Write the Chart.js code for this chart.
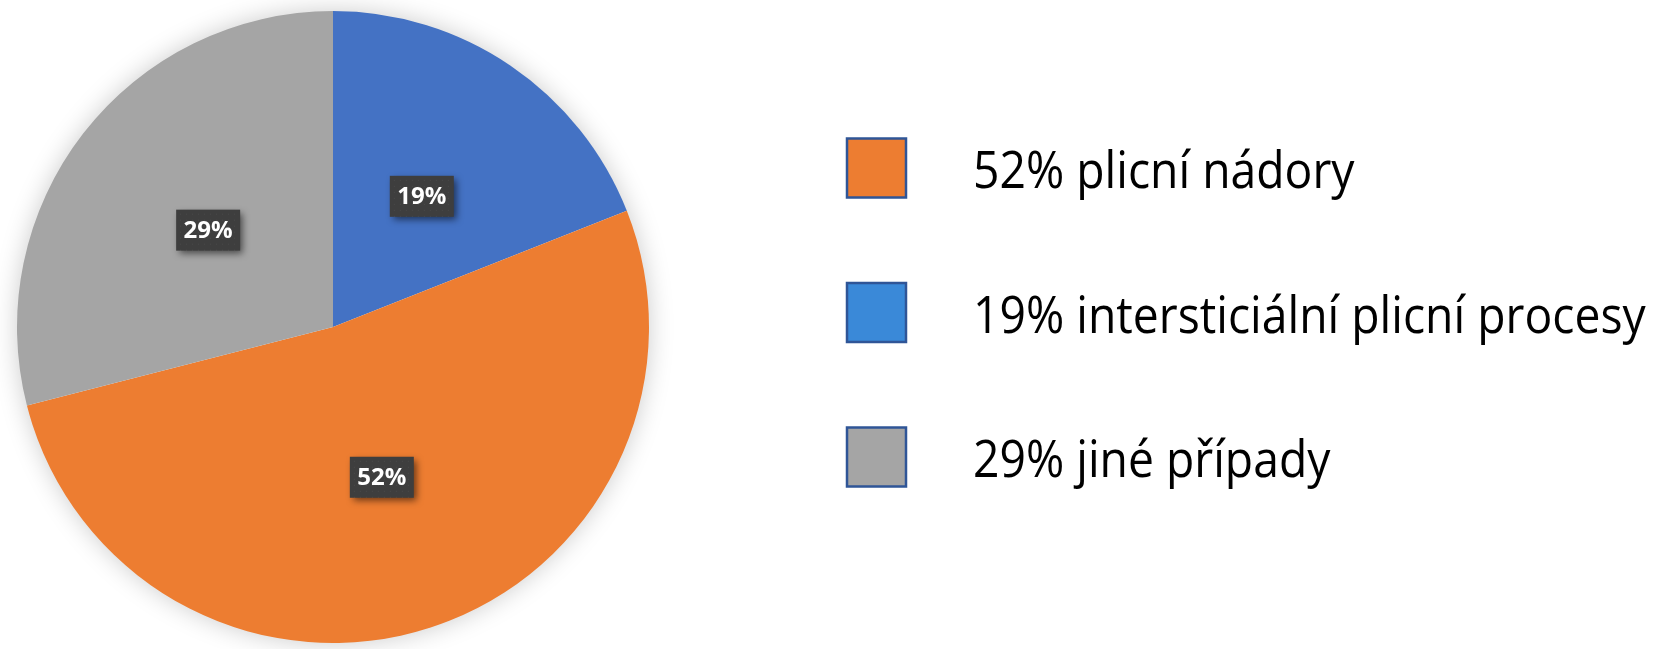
<!DOCTYPE html>
<html>
<head>
<meta charset="utf-8">
<script src="https://cdn.jsdelivr.net/npm/chart.js@4"></script>
<style>
  html, body { margin: 0; padding: 0; background: #fff; }
</style>
</head>
<body>
<canvas id="pieChart" width="1654" height="649"></canvas>
<script>
// categories in legend order
const categories = ['plicní nádory', 'intersticiální plicní procesy', 'jiné případy'];
const shares = [52, 19, 29];
const sliceColors = ['#ED7D31', '#4472C4', '#A5A5A5'];
const legendColors = ['#ED7D31', '#3A89D8', '#A5A5A5'];
// slices are drawn clockwise from 12 o'clock in this order
const sliceOrder = [1, 0, 2];

const pieShadow = {
    id: 'pieShadow',
    beforeDatasetsDraw(chart) {
        const arc = chart.getDatasetMeta(0).data[0];
        if (!arc) return;
        const ctx = chart.ctx;
        ctx.save();
        ctx.shadowColor = 'rgba(0, 0, 0, 0.22)';
        ctx.shadowBlur = 26;
        ctx.fillStyle = '#ffffff';
        ctx.beginPath();
        ctx.arc(arc.x, arc.y, arc.outerRadius - 1, 0, Math.PI * 2);
        ctx.fill();
        ctx.restore();
    }
};

const sliceLabels = {
    id: 'sliceLabels',
    afterDatasetsDraw(chart) {
        const ctx = chart.ctx;
        const values = chart.data.datasets[0].data;
        chart.getDatasetMeta(0).data.forEach((arc, i) => {
            const pos = arc.tooltipPosition();
            const w = 64, h = 41;
            ctx.save();
            ctx.shadowColor = 'rgba(0, 0, 0, 0.55)';
            ctx.shadowBlur = 7;
            ctx.shadowOffsetX = 3;
            ctx.shadowOffsetY = 3;
            ctx.fillStyle = '#3e3e3e';
            ctx.fillRect(pos.x - w / 2, pos.y - h / 2, w, h);
            ctx.restore();

            // faint dot texture on the label box
            ctx.save();
            ctx.fillStyle = 'rgba(255, 255, 255, 0.07)';
            for (let dx = 4; dx < w; dx += 6) {
                for (let dy = 4; dy < h; dy += 6) {
                    ctx.fillRect(pos.x - w / 2 + dx, pos.y - h / 2 + dy, 1, 1);
                }
            }
            ctx.fillStyle = '#ffffff';
            ctx.font = 'bold 24px "Open Sans"';
            ctx.textAlign = 'center';
            ctx.textBaseline = 'middle';
            ctx.fillText(values[i] + '%', pos.x, pos.y + 1);
            ctx.restore();
        });
    }
};

const sideLegend = {
    id: 'sideLegend',
    afterDraw(chart) {
        const ctx = chart.ctx;
        const boxX = 847, box = 59, firstY = 168, rowGap = 144.5;
        const textX = 973, squeeze = 0.89;
        categories.forEach((name, i) => {
            const cy = firstY + i * rowGap;
            ctx.save();
            ctx.fillStyle = legendColors[i];
            ctx.fillRect(boxX, cy - box / 2, box, box);
            ctx.strokeStyle = '#2F5597';
            ctx.lineWidth = 2.5;
            ctx.strokeRect(boxX, cy - box / 2, box, box);
            ctx.restore();

            ctx.save();
            ctx.translate(textX, cy + 20);
            ctx.scale(squeeze, 1);
            ctx.fillStyle = '#000000';
            ctx.font = '52px "Open Sans"';
            ctx.textBaseline = 'alphabetic';
            ctx.fillText(shares[i] + '% ' + name, 0, 0);
            ctx.restore();
        });
    }
};

new Chart(document.getElementById('pieChart'), {
    type: 'pie',
    data: {
        labels: sliceOrder.map(i => categories[i]),
        datasets: [{
            data: sliceOrder.map(i => shares[i]),
            backgroundColor: sliceOrder.map(i => sliceColors[i]),
            borderWidth: 0,
            hoverOffset: 0
        }]
    },
    options: {
        responsive: false,
        animation: false,
        layout: {
            padding: { left: 17, right: 1005, top: 11, bottom: 6 }
        },
        plugins: {
            legend: { display: false },
            tooltip: { enabled: false }
        }
    },
    plugins: [pieShadow, sliceLabels, sideLegend]
});
</script>
</body>
</html>
